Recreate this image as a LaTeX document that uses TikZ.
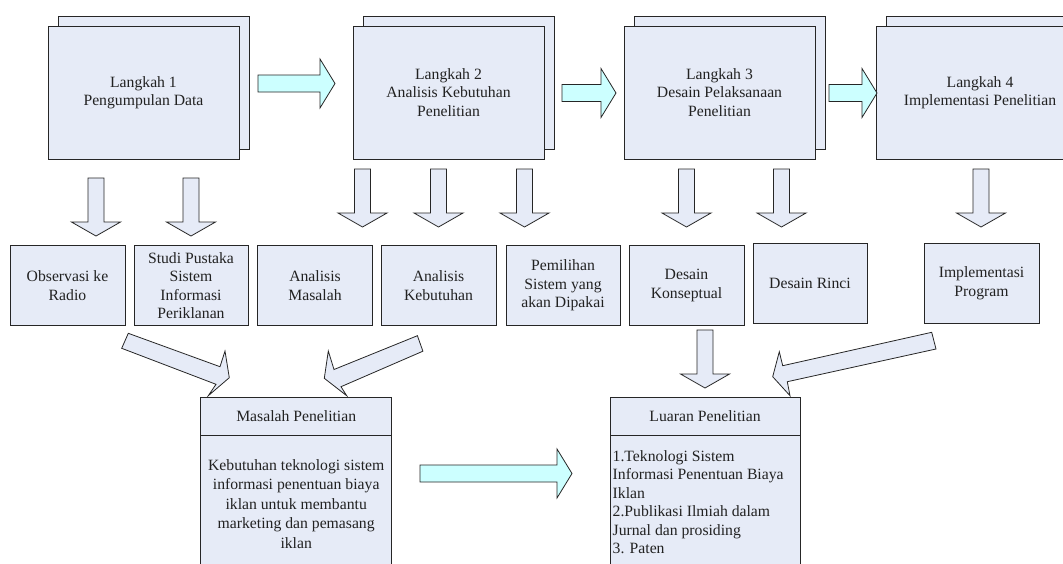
\documentclass[tikz,border=0pt]{standalone}
\usepackage{fontspec}
\setmainfont{Liberation Serif}
\definecolor{boxfill}{HTML}{E6EBF7}
\definecolor{cyanfill}{HTML}{CCFFFF}
\definecolor{linecol}{HTML}{262626}
\definecolor{txtcol}{HTML}{222222}
\newcommand\dnarrow[2]{%
  \draw[blk] (#1-8,#2) -- (#1-8,#2+44) -- (#1-24.5,#2+44) -- (#1,#2+58) -- (#1+24.5,#2+44) -- (#1+8,#2+44) -- (#1+8,#2) -- cycle;}
\newcommand\rtarrow[3]{%
  \draw[cy] (#1,#3-8.5) -- (#2-15,#3-8.5) -- (#2-15,#3-24.5) -- (#2,#3) -- (#2-15,#3+24.5) -- (#2-15,#3+8.5) -- (#1,#3+8.5) -- cycle;}
\begin{document}
\begin{tikzpicture}[x=1pt,y=-1pt,
  box/.style={draw=linecol, fill=boxfill, line width=0.9pt, inner sep=0pt, outer sep=0pt,
    text=txtcol, align=center, font=\fontsize{15.7}{18.5}\selectfont},
  blk/.style={draw=linecol, fill=boxfill, line width=0.8pt},
  cy/.style={draw=linecol, fill=cyanfill, line width=0.8pt},
  lbl/.style={text=txtcol, inner sep=0pt, font=\fontsize{15.7}{18.5}\selectfont},
  top/.style={box, minimum width=191pt, minimum height=133pt},
  mid/.style={box, minimum width=115pt, minimum height=80pt}
]
\useasboundingbox (0,0) rectangle (1063,563);
\clip (0,0) rectangle (1063,563);

% ---- top step boxes (back sheets, then front sheets)
\node[top] (s1b) at (153.5,82.5) {};
\node[top] (s2b) at (458.5,82.5) {};
\node[top] (s3b) at (729.5,82.5) {};
\node[top, minimum width=208pt] (s4b) at (990,82.5) {};
\node[top] (s1) at (143.5,92.5) {Langkah 1\\Pengumpulan Data};
\node[top] (s2) at (448.5,92.5) {Langkah 2\\Analisis Kebutuhan\\Penelitian};
\node[top] (s3) at (719.5,92.5) {Langkah 3\\Desain Pelaksanaan\\Penelitian};
\node[top, minimum width=208pt] (s4) at (980,92.5) {Langkah 4\\Implementasi Penelitian};

% ---- cyan arrows between steps
\rtarrow{258}{335}{83.5}
\rtarrow{562}{616}{93}
\rtarrow{829}{877}{93}

% ---- down arrows
\dnarrow{96}{178}
\dnarrow{191}{178}
\dnarrow{362.5}{169}
\dnarrow{438.5}{169}
\dnarrow{524.5}{169}
\dnarrow{686.5}{169}
\dnarrow{781.5}{169}
\dnarrow{981}{169}

% ---- middle row boxes
\node[mid] (m1) at (67.5,285.5) {Observasi ke\\Radio};
\node[mid, minimum width=114pt] (m2) at (191,285.5) {Studi Pustaka\\Sistem\\Informasi\\Periklanan};
\node[mid] (m3) at (315,285.5) {Analisis\\Masalah};
\node[mid] (m4) at (438.5,285.5) {Analisis\\Kebutuhan};
\node[mid, minimum width=114pt] (m5) at (563,285.5) {Pemilihan\\Sistem yang\\akan Dipakai};
\node[mid] (m6) at (686.5,285.5) {Desain\\Konseptual};
\node[mid, minimum width=114pt] (m7) at (810,283) {Desain Rinci};
\node[mid] (m8) at (981.5,283) {Implementasi\\Program};

% ---- converging arrows
\draw[blk] (128.3,333.3) -- (220,366.7) -- (225,351) -- (229.3,377.7) -- (208.3,395.7) -- (216,384.3) -- (121.7,348.3) -- cycle;
\draw[blk] (417.4,335.7) -- (334,369.5) -- (328.3,351) -- (324.3,378.3) -- (346.7,395.7) -- (341,386.7) -- (422.9,351.2) -- cycle;
\dnarrow{705}{330}
\draw[blk] (931.7,332.3) -- (782.7,365.7) -- (779.3,351.7) -- (772.7,376.7) -- (790,395.7) -- (787.3,381.7) -- (936,349) -- cycle;

% ---- bottom boxes
\node[box, minimum width=191pt, minimum height=183pt] (mp) at (296.2,488.5) {};
\draw[draw=linecol, line width=0.9pt] (mp.west |- 0,435) -- (mp.east |- 0,435);
\node[lbl] (mpt) at (296.2,416) {Masalah Penelitian};
\node[lbl, align=center, font=\fontsize{15.7}{19.6}\selectfont] (mpb) at (296.2,504)
  {Kebutuhan teknologi sistem\\informasi penentuan biaya\\iklan untuk membantu\\marketing dan pemasang\\iklan};

\node[box, minimum width=190pt, minimum height=183pt] (lp) at (705,488.5) {};
\draw[draw=linecol, line width=0.9pt] (lp.west |- 0,435) -- (lp.east |- 0,435);
\node[lbl] (lpt) at (705,416) {Luaran Penelitian};
\node[lbl, align=left, anchor=west] (lpb) at (612.5,502)
  {1.Teknologi Sistem\\Informasi Penentuan Biaya\\Iklan\\2.Publikasi Ilmiah dalam\\Jurnal dan prosiding\\3. Paten};

% ---- cyan arrow between bottom boxes
\rtarrow{420}{572}{473.5}
\end{tikzpicture}
\end{document}
